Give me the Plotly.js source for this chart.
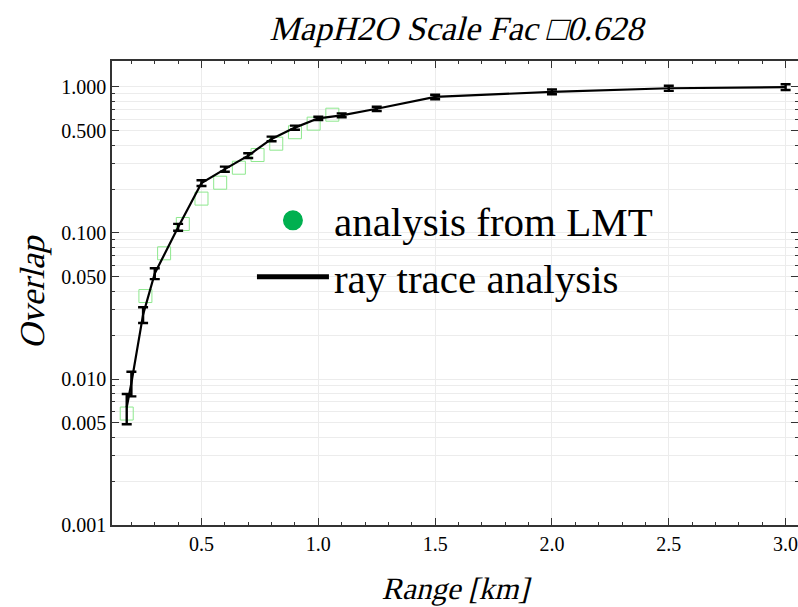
<!DOCTYPE html>
<html><head><meta charset="utf-8">
<script src="https://cdn.plot.ly/plotly-3.0.1.min.js"></script>
<style>html,body{margin:0;padding:0;background:#fff}#chart{width:798px;height:607px}</style>
</head><body><div id="chart"></div>
<script>
// Ray trace analysis (black line with error bars)
const rangeKm = [0.18, 0.2, 0.25, 0.3, 0.4, 0.5, 0.6, 0.7, 0.8, 0.9, 1.0, 1.1, 1.25, 1.5, 2.0, 2.5, 3.0];
const rayOverlap = [0.0064, 0.0094, 0.0276, 0.0528, 0.1095, 0.220, 0.274, 0.339, 0.441, 0.527, 0.610, 0.640, 0.709, 0.855, 0.927, 0.980, 0.998];
const rayError = [0.0015, 0.0018, 0.0034, 0.0045, 0.006, 0.010, 0.011, 0.0125, 0.016, 0.017, 0.016, 0.020, 0.024, 0.030, 0.035, 0.040, 0.045];
// Analysis from LMT (green hollow squares)
const lmtRange = [0.18, 0.26, 0.34, 0.42, 0.50, 0.58, 0.66, 0.74, 0.82, 0.90, 0.98, 1.06];
const lmtOverlap = [0.0058, 0.037, 0.0726, 0.1153, 0.172, 0.221, 0.280, 0.342, 0.409, 0.490, 0.561, 0.646];
// Tick labels
const yTickVals = [0.001, 0.005, 0.01, 0.05, 0.1, 0.5, 1];
const yTickText = ['0.001', '0.005', '0.010', '0.050', '0.100', '0.500', '1.000'];
const xTickVals = [0.5, 1.0, 1.5, 2.0, 2.5, 3.0];
const xTickText = ['0.5', '1.0', '1.5', '2.0', '2.5', '3.0'];
const decades = [0.001, 0.01, 0.1, 1];
const mantissas = [1, 2, 3, 4, 5, 6, 7, 8, 9];

const yMinor = [];
decades.forEach(d => mantissas.forEach(m => yMinor.push(+(d * m).toPrecision(3))));

const serif = '"Liberation Serif", "Times New Roman", Times, serif';
const axisCol = '#333';
const gridCol = '#ececec';

const traces = [
  {
    x: lmtRange, y: lmtOverlap, type: 'scatter', mode: 'markers',
    name: 'analysis from LMT', showlegend: false, legendgroup: 'lmt',
    marker: {symbol: 'square-open', size: 13, color: '#8ee88e', line: {width: 1, color: '#8ee88e'}},
    hoverinfo: 'x+y'
  },
  {
    x: [null], y: [null], type: 'scatter', mode: 'markers',
    name: 'analysis from LMT', legendgroup: 'lmt',
    marker: {symbol: 'circle', size: 16, color: '#00b050', line: {width: 4, color: '#00b050'}}
  },
  {
    x: rangeKm, y: rayOverlap, type: 'scatter', mode: 'lines',
    name: 'ray trace analysis', showlegend: false, legendgroup: 'ray',
    line: {color: '#000', width: 2.2},
    error_y: {type: 'data', array: rayError, visible: true, color: '#000', thickness: 2.4, width: 5}
  },
  {
    x: [null], y: [null], type: 'scatter', mode: 'lines',
    name: 'ray trace analysis', legendgroup: 'ray',
    line: {color: '#000', width: 5}
  }
];

const layout = {
  width: 798, height: 607,
  margin: {l: 112, r: 0, t: 61, b: 82},
  paper_bgcolor: '#fff', plot_bgcolor: '#fff',
  font: {family: serif, color: '#000'},
  title: {
    text: 'MapH2O Scale Fac □0.628',
    font: {family: serif, size: 34, color: '#000'},
    x: 0.506, xref: 'paper', xanchor: 'center',
    y: 1 - 28 / 607, yref: 'container', yanchor: 'middle'
  },
  xaxis: {
    range: [0.117, 3.053],
    tickmode: 'array', tickvals: xTickVals, ticktext: xTickText,
    ticks: 'inside', ticklen: 7, tickwidth: 1, tickcolor: axisCol,
    showline: true, linecolor: axisCol, linewidth: 1.5, mirror: 'allticks',
    showgrid: true, gridcolor: gridCol, gridwidth: 1, zeroline: false,
    ticklabeloverflow: 'allow',
    minor: {tickmode: 'linear', tick0: 0, dtick: 0.1, ticks: 'inside', ticklen: 3.5, tickcolor: axisCol, tickwidth: 1, showgrid: false},
    tickfont: {family: serif, size: 20, color: '#000'},
    title: {text: 'Range [km]', font: {family: serif, size: 31, color: '#000'}, standoff: 24}
  },
  yaxis: {
    type: 'log', range: [-3, 0.178],
    tickmode: 'array', tickvals: yTickVals, ticktext: yTickText,
    ticks: 'inside', ticklen: 7, tickwidth: 1, tickcolor: axisCol,
    showline: true, linecolor: axisCol, linewidth: 1.5, mirror: 'allticks',
    showgrid: true, gridcolor: gridCol, gridwidth: 1, zeroline: false,
    minor: {tickmode: 'array', tickvals: yMinor, ticks: 'inside', ticklen: 3.5, tickcolor: axisCol, tickwidth: 1, showgrid: true, gridcolor: gridCol, gridwidth: 1},
    tickfont: {family: serif, size: 20, color: '#000'},
    title: {text: 'Overlap', font: {family: serif, size: 35, color: '#000'}, standoff: 6}
  },
  legend: {
    x: 0.204, y: 0.728, xanchor: 'left', yanchor: 'top',
    bgcolor: 'rgba(0,0,0,0)', borderwidth: 0,
    font: {family: serif, size: 41, color: '#000'},
    itemwidth: 72, tracegroupgap: 0
  },
  showlegend: true
};

// Slant the title texts (serif italic face is not available, so skew the regular serif face)
function slantTitles(gd) {
  gd.querySelectorAll('text.gtitle, text.xtitle, text.ytitle').forEach(el => {
    const t = el.getAttribute('transform') || '';
    if (t.indexOf('skewX') >= 0) return;
    const x = parseFloat(el.getAttribute('x')) || 0;
    const y = parseFloat(el.getAttribute('y')) || 0;
    el.setAttribute('transform', (t + ' translate(' + x + ',' + y + ') skewX(-14) translate(' + (-x) + ',' + (-y) + ')').trim());
  });
}

const gd = document.getElementById('chart');
Plotly.newPlot(gd, traces, layout, {displayModeBar: false, responsive: false}).then(() => {
  slantTitles(gd);
  gd.on('plotly_afterplot', () => slantTitles(gd));
});
</script>
</body></html>
